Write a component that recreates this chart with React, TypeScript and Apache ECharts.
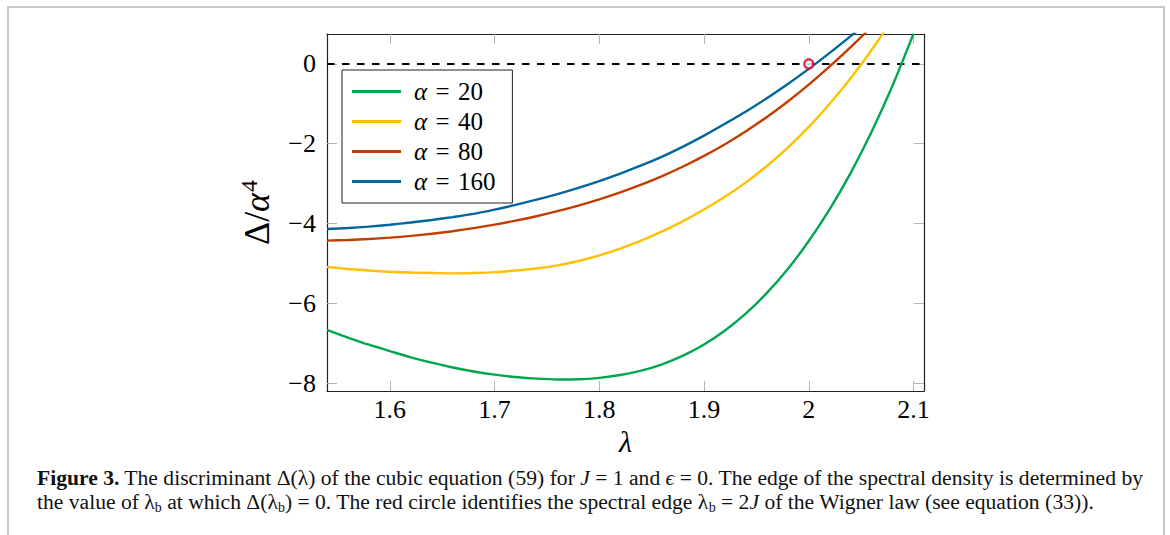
import React, { useEffect, useRef } from "react";
import * as echarts from "echarts";

// ---- data ----
const lambda = [1.54, 1.56, 1.58, 1.6, 1.62, 1.64, 1.66, 1.68, 1.7, 1.72, 1.74, 1.76, 1.78, 1.8, 1.82, 1.84, 1.86, 1.88, 1.9, 1.92, 1.94, 1.96, 1.98, 2.0, 2.02, 2.04, 2.06, 2.08, 2.1];
const alpha20 = [-6.67, -6.86, -7.04, -7.2, -7.355, -7.49, -7.61, -7.71, -7.79, -7.85, -7.89, -7.91, -7.905, -7.87, -7.8, -7.69, -7.53, -7.315, -7.035, -6.685, -6.255, -5.74, -5.14, -4.44, -3.64, -2.73, -1.7, -0.54, 0.76];
const alpha40 = [-5.09, -5.14, -5.18, -5.21, -5.23, -5.24, -5.25, -5.24, -5.22, -5.18, -5.13, -5.05, -4.94, -4.8, -4.63, -4.43, -4.2, -3.94, -3.65, -3.33, -2.97, -2.56, -2.1, -1.58, -1.0, -0.36, 0.35, 1.13, 1.98];
const alpha80 = [-4.43, -4.414, -4.39, -4.356, -4.312, -4.258, -4.194, -4.118, -4.03, -3.93, -3.818, -3.692, -3.552, -3.396, -3.222, -3.028, -2.812, -2.572, -2.306, -2.012, -1.688, -1.332, -0.942, -0.518, -0.062, 0.422, 0.932, 1.466, 2.022];
const alpha160 = [-4.14, -4.114, -4.078, -4.032, -3.976, -3.912, -3.84, -3.758, -3.652, -3.534, -3.404, -3.262, -3.106, -2.936, -2.75, -2.546, -2.322, -2.072, -1.798, -1.5, -1.192, -0.86, -0.504, -0.124, 0.276, 0.696, 1.136, 1.596, 2.076];
const seriesNames = ["α = 20", "α = 40", "α = 80", "α = 160"];
const seriesColors = ["#00a651", "#ffc000", "#c43d00", "#00669c"];
const zeroLineX = [1.54, 2.11];
const zeroLineY = [0, 0];
const wignerEdge = [2, 0];
const xTicks = [1.6, 1.7, 1.8, 1.9, 2, 2.1];
const yTicks = [-8, -6, -4, -2, 0];

const SERIF = "Liberation Serif";

const caption1 =
  "{b|Figure 3.} The discriminant Δ(λ) of the cubic equation ({c|59}) for {i|J} = 1 and {i|ϵ} = 0. The edge of the spectral density is determined by";
const caption2 =
  "the value of λ{s|b} at which Δ(λ{s|b}) = 0. The red circle identifies the spectral edge λ{s|b} = 2{i|J} of the Wigner law (see equation ({c|33})).";

export default function App() {
  const ref = useRef<HTMLDivElement>(null);
  useEffect(() => {
    if (!ref.current) return;
    const chart = echarts.init(ref.current, undefined, { renderer: "svg" });
    const data = [alpha20, alpha40, alpha80, alpha160];
    const tickStyle = { color: "#b4b4b4", width: 1 };
    const frame = { show: true, onZero: false, lineStyle: { color: "#222", width: 1.2 } };
    const CAP = 21.6;
    const captionRich = {
      b: { fontWeight: "bold", fontSize: CAP, fontFamily: SERIF, color: "#111" },
      c: { color: "#2a8cc4", fontSize: CAP, fontFamily: SERIF },
      i: { fontStyle: "italic", fontSize: CAP, fontFamily: SERIF, color: "#111" },
      s: { fontSize: 14, fontFamily: SERIF, color: "#111", padding: [10, 0, 0, 0] },
    };
    chart.setOption({
      animation: false,
      backgroundColor: "#fff",
      grid: { left: 327, top: 34, right: 246, bottom: 144, containLabel: false },
      xAxis: [
        {
          type: "value",
          min: 1.54,
          max: 2.11,
          position: "bottom",
          axisLine: frame,
          axisTick: { show: true, inside: true, length: 10, customValues: xTicks, lineStyle: tickStyle },
          axisLabel: { customValues: xTicks, fontSize: 26, color: "#000", fontFamily: SERIF, margin: 5 },
          splitLine: { show: false },
          name: "λ",
          nameLocation: "middle",
          nameGap: 29,
          nameTextStyle: { fontSize: 30, fontStyle: "italic", color: "#000", fontFamily: SERIF },
        },
        {
          type: "value",
          min: 1.54,
          max: 2.11,
          position: "top",
          axisLine: frame,
          axisTick: { show: true, inside: true, length: 10, customValues: xTicks, lineStyle: tickStyle },
          axisLabel: { show: false },
          splitLine: { show: false },
        },
      ],
      yAxis: [
        {
          type: "value",
          min: -8.2,
          max: 0.75,
          position: "left",
          axisLine: frame,
          axisTick: { show: true, inside: true, length: 10, customValues: yTicks, lineStyle: tickStyle },
          axisLabel: {
            customValues: yTicks,
            fontSize: 26,
            color: "#000",
            fontFamily: SERIF,
            margin: 11,
            formatter: (v: number) => (v < 0 ? "\u2212" + Math.abs(v) : String(v)),
          },
          splitLine: { show: false },
          name: "{d|Δ/}{a|α}{s|4}",
          nameLocation: "middle",
          nameRotate: 90,
          nameGap: 50,
          nameTextStyle: {
            color: "#000",
            rich: {
              d: { fontSize: 36, fontFamily: SERIF, color: "#000" },
              a: { fontSize: 36, fontFamily: SERIF, fontStyle: "italic", color: "#000" },
              s: { fontSize: 24, fontFamily: SERIF, color: "#000", padding: [0, 0, 16, 1] },
            },
          },
        },
        {
          type: "value",
          min: -8.2,
          max: 0.75,
          position: "right",
          axisLine: frame,
          axisTick: { show: true, inside: true, length: 10, customValues: yTicks, lineStyle: tickStyle },
          axisLabel: { show: false },
          splitLine: { show: false },
        },
      ],
      legend: {
        data: seriesNames,
        orient: "vertical",
        left: 342,
        top: 70,
        padding: [9, 17, 9, 10],
        itemGap: 5,
        itemWidth: 49,
        itemHeight: 3,
        icon: "rect",
        backgroundColor: "#fff",
        borderColor: "#222",
        borderWidth: 1,
        borderRadius: 0,
        formatter: (name: string) => "{a|α}\u2004=\u2004" + name.slice(4),
        textStyle: {
          fontSize: 25,
          fontFamily: SERIF,
          color: "#000",
          padding: [0, 0, 0, 8],
          rich: { a: { fontSize: 25, fontFamily: SERIF, fontStyle: "italic", color: "#000" } },
        },
      },
      series: [
        ...data.map((vals, k) => ({
          name: seriesNames[k],
          type: "line",
          xAxisIndex: 0,
          yAxisIndex: 0,
          data: lambda.map((x, i) => [x, vals[i]]),
          symbol: "none",
          smooth: 0.3,
          clip: true,
          color: seriesColors[k],
          lineStyle: { width: 2.4, color: seriesColors[k] },
          z: 3,
        })),
        {
          name: "zero",
          type: "line",
          data: zeroLineX.map((x, i) => [x, zeroLineY[i]]),
          symbol: "none",
          lineStyle: { color: "#000", width: 2, type: [7.5, 7.5] },
          z: 2,
        },
        {
          name: "edge",
          type: "scatter",
          data: [wignerEdge],
          symbol: "circle",
          symbolSize: 9,
          itemStyle: { color: "#fff", borderColor: "#d9002b", borderWidth: 2.5 },
          z: 5,
        },
      ],
      graphic: [
        {
          type: "rect",
          shape: { x: 8, y: 7, width: 1156, height: 600 },
          style: { fill: "none", stroke: "#c8c8c8", lineWidth: 2 },
          silent: true,
        },
        {
          type: "text",
          x: 37,
          y: 478,
          style: {
            text: caption1,
            rich: captionRich,
            fontSize: CAP,
            fontFamily: SERIF,
            fill: "#111",
            verticalAlign: "middle",
          },
        },
        {
          type: "text",
          x: 37,
          y: 502,
          style: {
            text: caption2,
            rich: captionRich,
            fontSize: CAP,
            fontFamily: SERIF,
            fill: "#111",
            verticalAlign: "middle",
          },
        },
      ],
    });
    return () => chart.dispose();
  }, []);
  return (
    <div
      ref={ref}
      style={{ position: "absolute", left: 0, top: 0, width: 1170, height: 535, background: "#fff" }}
    />
  );
}
